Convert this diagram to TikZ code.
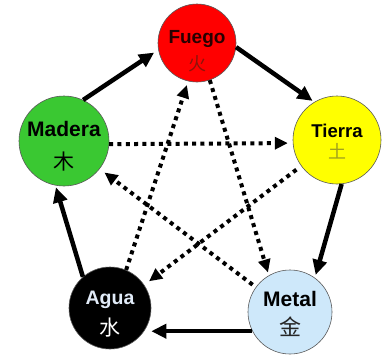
\documentclass[tikz,border=0pt]{standalone}
\usepackage{fontspec}
\setmainfont{Liberation Sans}
\newfontfamily\cjk{Noto Sans CJK SC}
\usetikzlibrary{arrows.meta}
\definecolor{fuegocol}{RGB}{255,0,0}
\definecolor{maderacol}{RGB}{58,200,50}
\definecolor{tierracol}{RGB}{255,255,0}
\definecolor{metalcol}{RGB}{206,232,250}
\definecolor{huocol}{RGB}{140,20,10}
\definecolor{tucol}{RGB}{160,160,30}
\definecolor{aguatext}{RGB}{225,235,248}
\definecolor{fuegotext}{RGB}{40,0,0}
\begin{document}
\begin{tikzpicture}[x=1pt,y=-1pt,
  elem/.style={circle, draw=black!65, line width=0.6pt, inner sep=0pt, minimum size=#1},
  elname/.style={anchor=base, inner sep=0pt, font=\fontsize{#1}{#1}\selectfont\bfseries},
  hanzi/.style={inner sep=0pt, anchor=center, font=\cjk\fontsize{#1}{#1}\selectfont},
  solidarrow/.style={line width=4.5pt, -{Triangle[length=15pt,width=14pt]}},
  dotarrow/.style={line width=4pt, dash pattern=on 4pt off 4.3pt, -{Triangle[length=13pt,width=12pt]}}
]
\useasboundingbox (0,0) rectangle (383,356);
\fill[white] (0,0) rectangle (383,356);

% circles
\node[elem=78, fill=fuegocol] (fuego) at (197,43) {};
\node[elem=90, fill=maderacol] (madera) at (64,141) {};
\node[elem=88, fill=tierracol] (tierra) at (337,140) {};
\node[elem=82, fill=black] (agua) at (110,308) {};
\node[elem=84, fill=metalcol] (metal) at (290,312) {};

% labels
\node[elname=19, text=fuegotext] (fuegot) at (197,43) {Fuego};
\node[hanzi=18, text=huocol] (fuegoc) at (197,64) {火};
\node[elname=21] (maderat) at (64,136) {Madera};
\node[hanzi=21] (maderac) at (64,162) {木};
\node[elname=18.5] (tierrat) at (337,137) {Tierra};
\node[hanzi=18, text=tucol] (tierrac) at (337,151) {土};
\node[elname=19.5, text=aguatext] (aguat) at (110,304) {Agua};
\node[hanzi=21, text=white] (aguac) at (110,328) {水};
\node[elname=21] (metalt) at (290,306) {Metal};
\node[hanzi=22, text=black!85] (metalc) at (290,327) {金};

% generating cycle (solid)
\draw[solidarrow, shorten >=5pt] (madera.65) -- (fuego.190);
\draw[solidarrow, shorten >=2pt] (fuego.-6) -- (tierra.121);
\draw[solidarrow, shorten >=3pt] (tierra.276) -- (metal.54);
\draw[solidarrow] (metal.207) -- (agua.east |- metal.207);
\draw[solidarrow, shorten >=2pt] (agua.131) -- (madera.259);

% controlling cycle (dotted)
\draw[dotarrow, shorten >=5pt] (madera.-4) -- (tierra.184);
\draw[dotarrow, shorten >=3pt] (fuego.289) -- (metal.120);
\draw[dotarrow, shorten >=4pt] (agua.67) -- (fuego.257);
\draw[dotarrow, shorten <=6pt, shorten >=6pt] (tierra.216) -- (agua.34);
\draw[dotarrow, shorten <=4pt, shorten >=6pt] (metal.144) -- (madera.322);
\end{tikzpicture}
\end{document}
